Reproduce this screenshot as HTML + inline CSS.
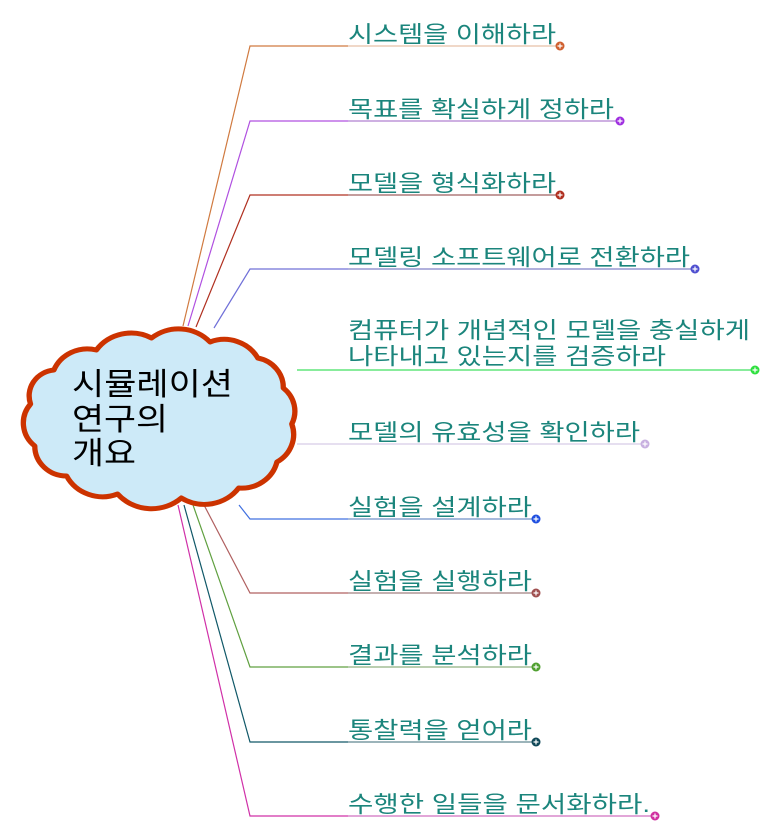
<!DOCTYPE html>
<html><head><meta charset="utf-8"><style>
html,body{margin:0;padding:0;background:#fff;}
svg{display:block;}
text{font-family:"Liberation Sans","Noto Sans CJK KR",sans-serif;}
.t{font-size:23px;fill:#1b857c;}
</style></head><body>
<svg width="783" height="834" viewBox="0 0 783 834" xmlns="http://www.w3.org/2000/svg">
<g fill="none" stroke-width="1.2">
<polyline points="183,326 250,46 348,46" stroke="#d07a40"/><line x1="348" y1="46" x2="560" y2="46" stroke="#e8c0a8"/>
<polyline points="188,326 250,121 348,121" stroke="#b050e0"/><line x1="348" y1="121" x2="620" y2="121" stroke="#b080d0"/>
<polyline points="196,327 250,195 348,195" stroke="#b03020"/><line x1="348" y1="195" x2="560" y2="195" stroke="#a06060"/>
<polyline points="214,328 250,269 348,269" stroke="#7070d8"/><line x1="348" y1="269" x2="695" y2="269" stroke="#8080c8"/>
<line x1="297" y1="370" x2="755" y2="370" stroke="#40e060"/>
<line x1="297" y1="444" x2="645" y2="444" stroke="#d8cce8"/>
<polyline points="239,505 250,519 348,519" stroke="#4070e0"/><line x1="348" y1="519" x2="536" y2="519" stroke="#7090c8"/>
<polyline points="204,505 250,593 348,593" stroke="#b06060"/><line x1="348" y1="593" x2="536" y2="593" stroke="#a08080"/>
<polyline points="193,505 250,667 348,667" stroke="#60a040"/><line x1="348" y1="667" x2="536" y2="667" stroke="#90b080"/>
<polyline points="184,505 250,742 348,742" stroke="#105868"/><line x1="348" y1="742" x2="536" y2="742" stroke="#608890"/>
<polyline points="178,505 250,816 348,816" stroke="#d030a8"/><line x1="348" y1="816" x2="655" y2="816" stroke="#d070c0"/>
</g>
<g stroke="none">
<circle cx="560" cy="46" r="4.5" fill="#d06030"/>
<circle cx="620" cy="121" r="4.5" fill="#a030e0"/>
<circle cx="560" cy="195" r="4.5" fill="#b03020"/>
<circle cx="695" cy="269" r="4.5" fill="#5050d0"/>
<circle cx="755" cy="370" r="4.5" fill="#30e040"/>
<circle cx="645" cy="444" r="4.5" fill="#c8b0e0"/>
<circle cx="536" cy="519" r="4.5" fill="#2050e0"/>
<circle cx="536" cy="593" r="4.5" fill="#a05050"/>
<circle cx="536" cy="667" r="4.5" fill="#50a030"/>
<circle cx="536" cy="742" r="4.5" fill="#104858"/>
<circle cx="655" cy="816" r="4.5" fill="#d030a0"/>
</g>
<g stroke="#fff" stroke-width="1.2">
<path d="M557.5 46h5M560 43.5v5M617.5 121h5M620 118.5v5M557.5 195h5M560 192.5v5M692.5 269h5M695 266.5v5M752.5 370h5M755 367.5v5M642.5 444h5M645 441.5v5M533.5 519h5M536 516.5v5M533.5 593h5M536 590.5v5M533.5 667h5M536 664.5v5M533.5 742h5M536 739.5v5M652.5 816h5M655 813.5v5"/>
</g>
<g class="t">
<text class="t" x="348" y="42" textLength="208" lengthAdjust="spacingAndGlyphs">시스템을 이해하라</text>
<text class="t" x="348" y="117" textLength="266" lengthAdjust="spacingAndGlyphs">목표를 확실하게 정하라</text>
<text class="t" x="348" y="191" textLength="208" lengthAdjust="spacingAndGlyphs">모델을 형식화하라</text>
<text class="t" x="348" y="265" textLength="342" lengthAdjust="spacingAndGlyphs">모델링 소프트웨어로 전환하라</text>
<text class="t" x="348" y="338" textLength="402" lengthAdjust="spacingAndGlyphs">컴퓨터가 개념적인 모델을 충실하게</text>
<text class="t" x="348" y="364" textLength="318" lengthAdjust="spacingAndGlyphs">나타내고 있는지를 검증하라</text>
<text class="t" x="348" y="440" textLength="292" lengthAdjust="spacingAndGlyphs">모델의 유효성을 확인하라</text>
<text class="t" x="348" y="515" textLength="184" lengthAdjust="spacingAndGlyphs">실험을 설계하라</text>
<text class="t" x="348" y="589" textLength="184" lengthAdjust="spacingAndGlyphs">실험을 실행하라</text>
<text class="t" x="348" y="663" textLength="184" lengthAdjust="spacingAndGlyphs">결과를 분석하라</text>
<text class="t" x="348" y="738" textLength="184" lengthAdjust="spacingAndGlyphs">통찰력을 얻어라</text>
<text class="t" x="348" y="812" textLength="302" lengthAdjust="spacingAndGlyphs">수행한 일들을 문서화하라.</text>
</g>
<path transform="matrix(1.062 0 0 1 -7.7 0)" d="M58,370 A34,34 0 0 1 98,350 A40,40 0 0 1 150,338 A40,40 0 0 1 205,342 A36,36 0 0 1 250,358 A30,30 0 0 1 274,388 A30,30 0 0 1 282,424 A32,32 0 0 1 268,462 A34,34 0 0 1 232,488 A40,40 0 0 1 178,498 A42,42 0 0 1 118,494 A38,38 0 0 1 70,476 A30,30 0 0 1 40,446 A30,30 0 0 1 36,404 A26,26 0 0 1 58,370 Z" fill="#cdeaf8" stroke="#cc3300" stroke-width="5" stroke-linejoin="round"/>
<g font-size="31" fill="#000">
<text x="72" y="395" textLength="161" lengthAdjust="spacingAndGlyphs">시뮬레이션</text>
<text x="72" y="430" textLength="96" lengthAdjust="spacingAndGlyphs">연구의</text>
<text x="72" y="464" textLength="64" lengthAdjust="spacingAndGlyphs">개요</text>
</g>
</svg>
</body></html>
